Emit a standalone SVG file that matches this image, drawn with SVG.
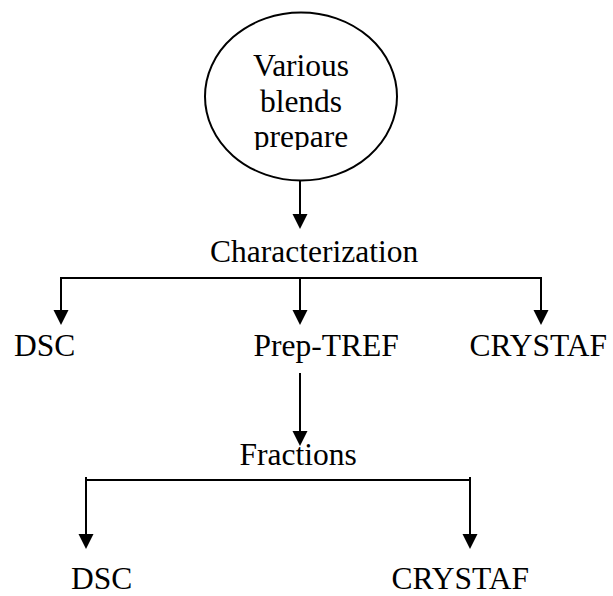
<svg xmlns="http://www.w3.org/2000/svg" width="613" height="596" viewBox="0 0 613 596">
<style>
text{font-family:"Liberation Serif","Times New Roman",serif;font-size:31.5px;fill:#000}
.ln{stroke:#000;stroke-width:2;fill:none}
.ah{fill:#000}
</style>
<defs>
<clipPath id="cc"><rect x="200" y="0" width="210" height="150"/></clipPath>
</defs>
<g id="blends">
<ellipse cx="301" cy="96.5" rx="96" ry="84" class="ln"/>
<g clip-path="url(#cc)">
<text x="301" y="75.5" text-anchor="middle">Various</text>
<text x="301" y="111.5" text-anchor="middle">blends</text>
<text x="301" y="147" text-anchor="middle">prepare</text>
</g>
</g>
<g id="characterization"><text x="210" y="262">Characterization</text></g>
<g id="dsc1"><text x="14" y="356">DSC</text></g>
<g id="preptref"><text x="253.5" y="356">Prep-TREF</text></g>
<g id="crystaf1"><text x="469.5" y="356">CRYSTAF</text></g>
<g id="fractions"><text x="239.5" y="465">Fractions</text></g>
<g id="dsc2"><text x="71" y="589">DSC</text></g>
<g id="crystaf2"><text x="391.5" y="589">CRYSTAF</text></g>
<g id="connectors">
<line class="ln" x1="300" y1="181" x2="300" y2="216"/>
<polygon class="ah" points="292.5,214 307.5,214 300,229"/>
<polyline class="ln" points="61,312 61,278 541,278 541,312"/>
<line class="ln" x1="300" y1="278" x2="300" y2="312"/>
<polygon class="ah" points="53.5,310 68.5,310 61,325"/>
<polygon class="ah" points="292.5,310 307.5,310 300,325"/>
<polygon class="ah" points="533.5,310 548.5,310 541,325"/>
<line class="ln" x1="300" y1="373" x2="300" y2="433"/>
<polygon class="ah" points="292.5,431 307.5,431 300,446"/>
<polyline class="ln" points="86,536 86,480 470,480 470,536"/>
<line class="ln" x1="86" y1="477" x2="86" y2="481"/>
<line class="ln" x1="470" y1="477" x2="470" y2="481"/>
<polygon class="ah" points="78.5,534 93.5,534 86,549"/>
<polygon class="ah" points="462.5,534 477.5,534 470,549"/>
</g>
</svg>
